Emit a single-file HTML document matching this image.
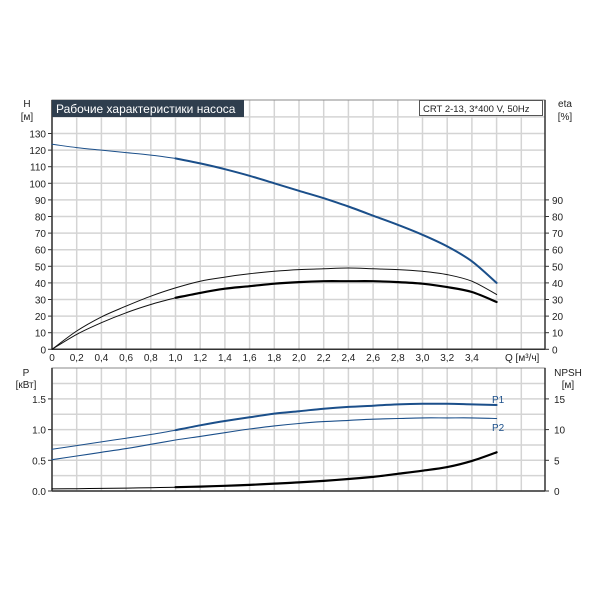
<!DOCTYPE html>
<html><head><meta charset="utf-8"><style>
body{margin:0;background:#fff;}
svg{display:block;font-family:"Liberation Sans",sans-serif;}
</style></head><body>
<svg id="c" width="600" height="600"></svg>
<script>
const qTicks=[0,0.2,0.4,0.6,0.8,1.0,1.2,1.4,1.6,1.8,2.0,2.2,2.4,2.6,2.8,3.0,3.2,3.4];
const qData=[0,0.2,0.4,0.6,0.8,1.0,1.2,1.4,1.6,1.8,2.0,2.2,2.4,2.6,2.8,3.0,3.2,3.4,3.6];
const hVals=[123.5,121.5,120,118.5,117,115,112,108.5,104.5,100,95.5,91,86,80.5,75,69,62,53,40];
const eta1Vals=[0,11,19.5,26,32,37,41,43.5,45.5,47,48,48.5,49,48.5,48,47,45,41,33];
const eta2Vals=[0,9,16,22,27,31,34,36.5,38,39.5,40.5,41,41,41,40.5,39.5,37.5,34.5,28.5];
const p1Vals=[0.68,0.74,0.80,0.86,0.92,0.99,1.07,1.14,1.20,1.26,1.30,1.34,1.37,1.39,1.41,1.42,1.42,1.41,1.40];
const p2Vals=[0.51,0.57,0.63,0.69,0.76,0.83,0.89,0.95,1.01,1.06,1.10,1.13,1.15,1.17,1.18,1.19,1.19,1.19,1.18];
const npshVals=[0.35,0.38,0.42,0.47,0.53,0.62,0.72,0.85,1.0,1.2,1.4,1.65,1.95,2.3,2.8,3.3,3.9,4.9,6.3];
const hTicks=[0,10,20,30,40,50,60,70,80,90,100,110,120,130];
const etaTicks=[0,10,20,30,40,50,60,70,80,90];
const pTicks=[0.0,0.5,1.0,1.5];
const npshTicks=[0,5,10,15];

const NS="http://www.w3.org/2000/svg";
const svg=document.getElementById('c');
function el(t,a,p){const e=document.createElementNS(NS,t);for(const k in a)e.setAttribute(k,a[k]);(p||svg).appendChild(e);return e;}
const X0=52,XR=545,XS=123.5;
const x=q=>X0+q*XS;
const yTop=v=>349.3-v*1.66;
const TOP1=100;
const yBot=v=>491-v*61.4;
const yNp=v=>491-v*6.14;
const TOP2=368;

function grid(top,bot,yfn,vals){
  for(let q=0;q<=3.81;q+=0.2){const l=el('line',{x1:x(q),x2:x(q),y1:top,y2:bot,stroke:'#d4d4d4','stroke-width':1.5});
  }
  vals.forEach(v=>{const l=el('line',{x1:X0,x2:XR,y1:yfn(v),y2:yfn(v),stroke:'#d4d4d4','stroke-width':1.5});
  });
}
const hGrid=[];for(let v=0;v<=140;v+=10)hGrid.push(v);
grid(TOP1,349.3,yTop,hGrid);
grid(TOP2,491,yBot,[0,0.25,0.5,0.75,1.0,1.25,1.5,1.75]);
[[TOP1,349.3],[TOP2,491]].forEach(([t,b])=>{const r=el('rect',{x:X0,y:t,width:XR-X0,height:b-t,fill:'none',stroke:'#888','stroke-width':1});

el('line',{x1:X0,x2:X0,y1:t,y2:b,stroke:'#333','stroke-width':1.5});el('line',{x1:X0,x2:XR,y1:b,y2:b,stroke:'#333','stroke-width':1.5});el('line',{x1:XR,x2:XR,y1:t,y2:b,stroke:'#333','stroke-width':1.5});});

function txt(s,xx,yy,anchor,name,extra){const t=el('text',Object.assign({x:xx,y:yy,'font-size':10,fill:'#222','text-anchor':anchor||'start'},extra||{}));t.textContent=s;
return t;}
hTicks.forEach(v=>{txt(String(v),46,yTop(v)+4,'end','h-tick-label');el('line',{x1:X0-4,x2:X0,y1:yTop(v),y2:yTop(v),stroke:'#333'});});
etaTicks.forEach(v=>{txt(String(v),552,yTop(v)+4,'start','eta-tick-label');el('line',{x1:XR,x2:XR+4,y1:yTop(v),y2:yTop(v),stroke:'#333'});});
qTicks.forEach(q=>{txt(q===0?'0':q.toFixed(1).replace('.',','),x(q),361,'middle','q-tick-label');});
txt('Q [м³/ч]',505,361,'start','x-axis-title');
pTicks.forEach(v=>{txt(v.toFixed(1),46,yBot(v)+4,'end','p-tick-label');el('line',{x1:X0-4,x2:X0,y1:yBot(v),y2:yBot(v),stroke:'#333'});});
npshTicks.forEach(v=>{txt(String(v),554,yNp(v)+4,'start','npsh-tick-label');el('line',{x1:XR,x2:XR+4,y1:yNp(v),y2:yNp(v),stroke:'#333'});});
txt('H',27,107,'middle','h-axis-title');txt('[м]',27,120,'middle','h-axis-unit');
txt('eta',565,107,'middle','eta-axis-title');txt('[%]',565,120,'middle','eta-axis-unit');
txt('P',26,376,'middle','p-axis-title');txt('[кВт]',26,388,'middle','p-axis-unit');
txt('NPSH',568,376,'middle','npsh-axis-title');txt('[м]',568,388,'middle','npsh-axis-unit');

const tb=el('rect',{x:52,y:100,width:192,height:17,fill:'#2f3e4e'});
txt('Рабочие характеристики насоса',56,113,'start','chart-title',{fill:'#fff','font-size':12});
const lb=el('rect',{x:419.5,y:100.5,width:123,height:15,fill:'#fff',stroke:'#555'});
txt('CRT 2-13, 3*400 V, 50Hz',423,112,'start','model-label',{'font-size':9.5});

function path(xs,ys,yfn,color,w,name,from,to){
  const pts=[];for(let i=0;i<xs.length;i++){if(xs[i]<from-1e-9||xs[i]>to+1e-9)continue;pts.push([x(xs[i]),yfn(ys[i])]);}
  let d='M'+pts[0][0].toFixed(1)+','+pts[0][1].toFixed(1);
  for(let i=0;i<pts.length-1;i++){
    const p0=pts[Math.max(0,i-1)],p1=pts[i],p2=pts[i+1],p3=pts[Math.min(pts.length-1,i+2)];
    const c1=[p1[0]+(p2[0]-p0[0])/6,p1[1]+(p2[1]-p0[1])/6],c2=[p2[0]-(p3[0]-p1[0])/6,p2[1]-(p3[1]-p1[1])/6];
    d+='C'+c1[0].toFixed(1)+','+c1[1].toFixed(1)+' '+c2[0].toFixed(1)+','+c2[1].toFixed(1)+' '+p2[0].toFixed(1)+','+p2[1].toFixed(1);
  }
  const p=el('path',{d:d,fill:'none',stroke:color,'stroke-width':w,'stroke-linejoin':'round','stroke-linecap':'round'});
  return p;
}
const BL='#1b4f8a';
path(qData,hVals,yTop,BL,1,'h-curve-thin',0,1.0);path(qData,hVals,yTop,BL,2,'h-curve',1.0,3.6);
path(qData,eta1Vals,yTop,'#111',1,'eta-curve-upper',0,3.6);
path(qData,eta2Vals,yTop,'#111',1,'eta-curve-lower-thin',0,1.0);path(qData,eta2Vals,yTop,'#000',2.2,'eta-curve-lower',1.0,3.6);
path(qData,p1Vals,yBot,BL,1,'p1-curve-thin',0,1.0);path(qData,p1Vals,yBot,BL,2,'p1-curve',1.0,3.6);
path(qData,p2Vals,yBot,BL,1.1,'p2-curve',0,3.6);
path(qData,npshVals,yNp,'#000',1,'npsh-curve-thin',0,1.0);path(qData,npshVals,yNp,'#000',2.2,'npsh-curve',1.0,3.6);
txt('P1',492,403,'start','p1-label',{fill:BL});
txt('P2',492,431,'start','p2-label',{fill:BL});
</script>
</body></html>
